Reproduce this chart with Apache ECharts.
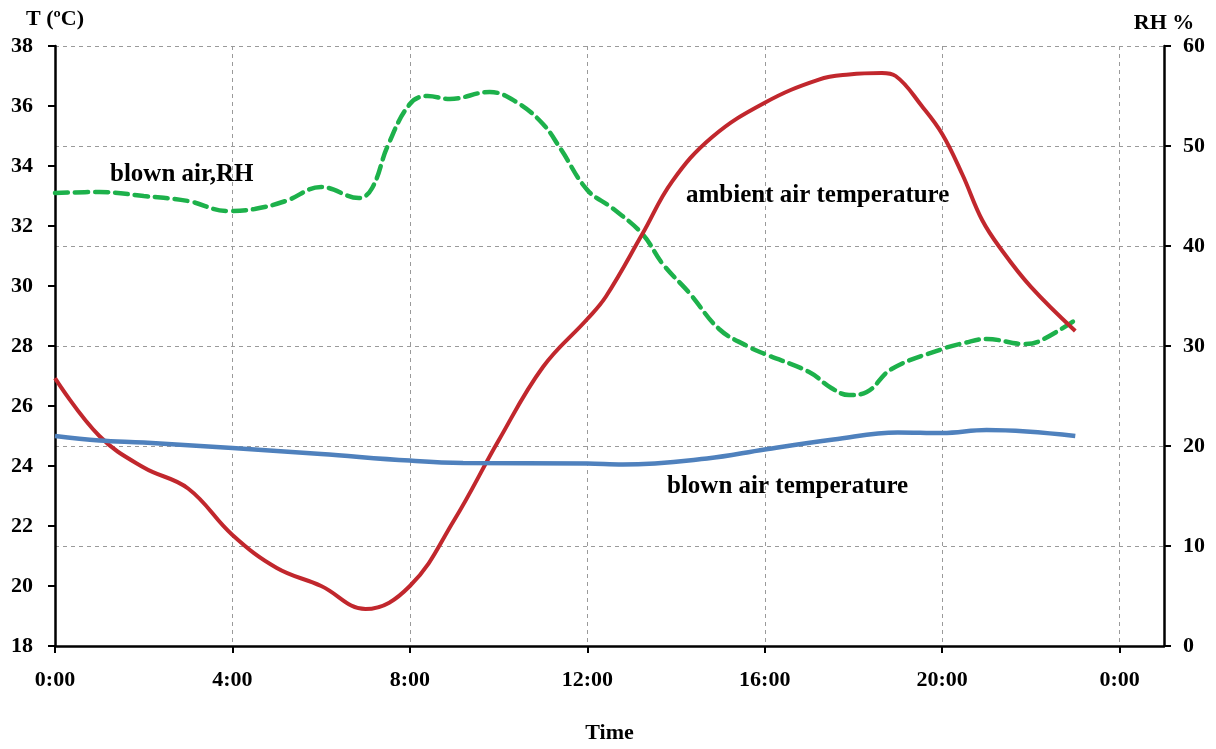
<!DOCTYPE html>
<html>
<head>
<meta charset="utf-8">
<script src="https://cdn.jsdelivr.net/npm/echarts@6/dist/echarts.min.js"></script>
<style>
html,body{margin:0;padding:0;background:#fff;overflow:hidden;}
#chart{width:1216px;height:749px;}
</style>
</head>
<body>
<div id="chart"></div>
<script>
// Blown air RH (%), right axis
const rhHours = [0,1,2,3,3.9,4.5,5.2,6,6.85,7.15,7.5,8,8.4,8.9,9.8,10.4,11,11.4,12,12.56,13.24,13.7,14.3,14.97,15.6,16,17,17.5,17.9,18.3,18.86,20,20.5,21,21.85,22.2,23];
const rhValues = [45.3,45.4,45.0,44.5,43.5,43.7,44.5,45.9,44.8,45.8,50.0,54.2,55.0,54.7,55.4,54.4,52.2,49.7,45.6,43.8,41.2,38.2,35.3,31.7,30.0,29.2,27.4,25.8,25.1,25.4,27.7,29.7,30.3,30.7,30.2,30.5,32.6];

// Ambient air temperature (°C), left axis
const ambHours = [0,1,2,3,4,5,6,7,8,9,10,11,12,12.42,13.24,13.91,14.81,16,17.22,17.9,18.64,18.95,19.54,20,20.46,20.9,21.34,22,23];
const ambValues = [26.93,25.0,23.95,23.25,21.7,20.6,20.0,19.23,20.0,22.2,24.85,27.3,28.9,29.65,31.73,33.48,34.96,36.11,36.88,37.05,37.1,37.0,36.0,35.07,33.7,32.2,31.2,29.97,28.5];

// Blown air temperature (°C), left axis
const blownHours = [0,1,2,4,6,8,9.2,12,12.8,14.7,16,17.55,19,20,21,23];
const blownValues = [25.0,24.85,24.78,24.6,24.4,24.18,24.1,24.08,24.05,24.25,24.55,24.88,25.12,25.1,25.2,25.0];

// Axis settings
const xTicks = {min:0, max:25, interval:4};
const tTicks = {min:18, max:38, interval:2};
const rhTicks = {min:0, max:60, interval:10};

const pair = (xs, ys) => xs.map((x, i) => [x, ys[i]]);

const FONT = 'Liberation Serif';
const labelStyle = {color:'#000', fontFamily:FONT, fontWeight:'bold', fontSize:22};
const axisLine = {show:true, lineStyle:{color:'#000', width:2.5}};
const gridDash = {show:true, lineStyle:{color:'#9a9a9a', type:[4,4], width:1}};
const annFont = 'bold 25px "Liberation Serif"';

const chart = echarts.init(document.getElementById('chart'), null, {renderer:'canvas'});
chart.setOption({
  animation:false,
  backgroundColor:'#fff',
  grid:{left:55, width:1109, top:46, height:608, containLabel:false},
  xAxis:{
    type:'value', min:xTicks.min, max:xTicks.max, interval:xTicks.interval,
    name:'Time', nameLocation:'middle', nameGap:76,
    nameTextStyle:labelStyle,
    axisLine:axisLine,
    axisTick:{show:true, length:7, lineStyle:{color:'#000', width:2}},
    axisLabel:Object.assign({}, labelStyle, {margin:23, showMaxLabel:false,
      formatter:v => (v > 24 ? '' : (v % 24) + ':00')}),
    splitLine:gridDash
  },
  yAxis:[
    {
      type:'value', min:tTicks.min, max:tTicks.max, interval:tTicks.interval,
      position:'left',
      name:'T (ºC)', nameLocation:'end', nameGap:16,
      nameTextStyle:Object.assign({}, labelStyle, {align:'center'}),
      axisLine:axisLine,
      axisTick:{show:true, length:7, lineStyle:{color:'#000', width:2}},
      axisLabel:Object.assign({}, labelStyle, {margin:22}),
      splitLine:{show:false}
    },
    {
      type:'value', min:rhTicks.min, max:rhTicks.max, interval:rhTicks.interval,
      position:'right',
      name:'RH %', nameLocation:'end', nameGap:12,
      nameTextStyle:Object.assign({}, labelStyle, {align:'center'}),
      axisLine:axisLine,
      axisTick:{show:true, length:7, lineStyle:{color:'#000', width:2}},
      axisLabel:Object.assign({}, labelStyle, {margin:19}),
      splitLine:gridDash
    }
  ],
  series:[
    {
      name:'blown air,RH', type:'line', yAxisIndex:1, smooth:0.4, symbol:'none',
      data:pair(rhHours, rhValues),
      lineStyle:{color:'#1db14b', width:4.5, type:[13,7], cap:'round'},
      z:3
    },
    {
      name:'ambient air temperature', type:'line', yAxisIndex:0, smooth:0.4, symbol:'none',
      data:pair(ambHours, ambValues),
      lineStyle:{color:'#c1272d', width:4},
      z:4
    },
    {
      name:'blown air temperature', type:'line', yAxisIndex:0, smooth:0.4, symbol:'none',
      data:pair(blownHours, blownValues),
      lineStyle:{color:'#4f81bd', width:4.5},
      z:4
    }
  ],
  graphic:[
    {type:'text', left:110, top:162, style:{text:'blown air,RH', fill:'#000', font:annFont}},
    {type:'text', left:686, top:183, style:{text:'ambient air temperature', fill:'#000', font:annFont}},
    {type:'text', left:667, top:474, style:{text:'blown air temperature', fill:'#000', font:annFont}}
  ]
});
</script>
</body>
</html>
